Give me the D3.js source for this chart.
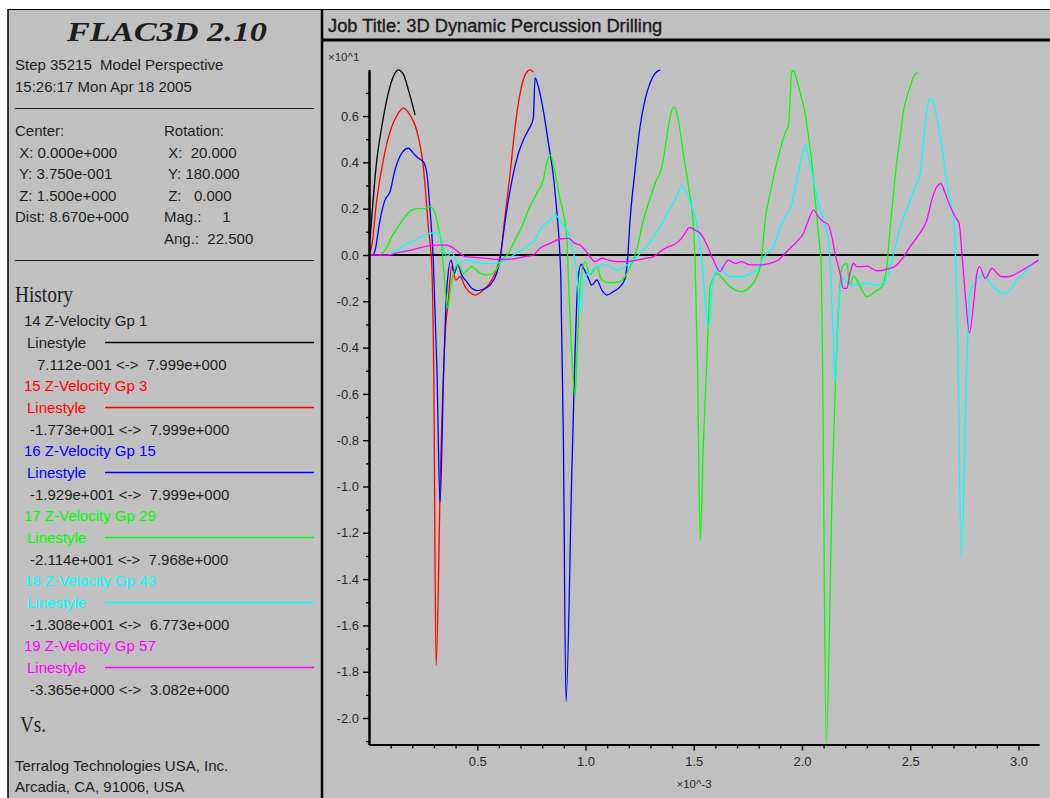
<!DOCTYPE html>
<html>
<head>
<meta charset="utf-8">
<title>3D Dynamic Percussion Drilling</title>
<script src="https://cdn.jsdelivr.net/npm/d3@7/dist/d3.min.js"></script>
<style>
  html, body { margin: 0; padding: 0; background: #fff; }
  svg { display: block; }
  text { white-space: pre; }
</style>
</head>
<body>
<svg id="chart" width="1050" height="798"></svg>
<script>
// ---- Z-velocity histories: time in x10^-3 s, velocity in model units ----
const gp1Time = [0.005, 0.036, 0.059, 0.082, 0.112, 0.135, 0.159, 0.182, 0.213];
const gp1Vel  = [0.7112, 4.10, 5.54, 6.70, 7.70, 7.999, 7.80, 7.13, 6.05];

const gp3Time = [0.000, 0.012, 0.036, 0.066, 0.105, 0.135, 0.159, 0.189, 0.220, 0.251,
                 0.274, 0.290, 0.299, 0.310, 0.331, 0.355, 0.364, 0.382, 0.401, 0.421,
                 0.444, 0.490, 0.528, 0.567, 0.598, 0.613, 0.628, 0.652, 0.675, 0.698,
                 0.721, 0.744, 0.759];
const gp3Vel  = [0, 0.36, 2.38, 4.10, 5.54, 6.12, 6.34, 6.05, 5.40, 3.80,
                 1.22, -0.50, -5.00, -17.73, -9.00, -3.00, -2.20, -0.50, -1.08, -0.94,
                 -1.37, -1.73, -1.51, -1.08, -0.36, 0.36, 1.65, 3.53, 5.54, 6.98,
                 7.78, 7.999, 7.90];

const gp15Time = [0.020, 0.028, 0.051, 0.074, 0.097, 0.120, 0.151, 0.182, 0.205, 0.228,
                  0.251, 0.267, 0.282, 0.297, 0.314, 0.328, 0.345, 0.359, 0.379, 0.394,
                  0.410, 0.428, 0.451, 0.475, 0.498, 0.528, 0.559, 0.590, 0.605, 0.621,
                  0.644, 0.667, 0.690, 0.713, 0.736, 0.759, 0.767, 0.782, 0.805, 0.829,
                  0.852, 0.867, 0.879, 0.886, 0.898, 0.910, 0.938, 0.966, 0.980, 0.993,
                  1.013, 1.029, 1.052, 1.075, 1.098, 1.129, 1.160, 1.183, 1.194, 1.206,
                  1.229, 1.252, 1.275, 1.298, 1.322, 1.345];
const gp15Vel  = [0, 0.20, 1.51, 2.38, 2.73, 3.67, 4.39, 4.61, 4.39, 4.18,
                  4.03, 3.53, 1.94, -0.20, -5.00, -10.70, -5.00, -1.50, -0.22, -0.79,
                  -0.43, -0.86, -1.15, -1.44, -1.54, -1.48, -1.30, -0.79, -0.22, 0.94,
                  2.38, 3.53, 4.39, 4.97, 5.40, 5.90, 7.65, 7.27, 6.26, 4.82,
                  3.38, 1.94, 0.50, -0.94, -8.00, -19.29, -9.00, -1.00, -0.40, -0.60,
                  -1.00, -1.30, -1.08, -1.51, -1.73, -1.58, -1.37, -1.01, -0.22, 1.51,
                  3.67, 5.54, 6.70, 7.42, 7.85, 7.999];

const gp29Time = [0.051, 0.074, 0.105, 0.135, 0.166, 0.197, 0.228, 0.259, 0.282, 0.305,
                  0.320, 0.336, 0.351, 0.364, 0.374, 0.390, 0.413, 0.436, 0.475, 0.513,
                  0.551, 0.582, 0.613, 0.644, 0.675, 0.706, 0.736, 0.775, 0.805, 0.821,
                  0.836, 0.860, 0.883, 0.898, 0.914, 0.921, 0.935, 0.952, 0.960, 0.975,
                  0.998, 1.021, 1.052, 1.075, 1.114, 1.160, 1.191, 1.214, 1.237, 1.260,
                  1.291, 1.322, 1.353, 1.376, 1.391, 1.409, 1.429, 1.452, 1.476, 1.499,
                  1.506, 1.518, 1.530, 1.545, 1.561, 1.576, 1.591, 1.607, 1.622, 1.668,
                  1.722, 1.761, 1.792, 1.807, 1.815, 1.830, 1.853, 1.876, 1.899, 1.922,
                  1.938, 1.945, 1.953, 1.961, 1.976, 2.000, 2.015, 2.030, 2.046, 2.061,
                  2.076, 2.089, 2.095, 2.112, 2.140, 2.171, 2.186, 2.207, 2.222, 2.238,
                  2.269, 2.300, 2.338, 2.369, 2.392, 2.408, 2.423, 2.439, 2.454, 2.470,
                  2.485, 2.500, 2.515, 2.534];
const gp29Vel  = [0, 0.20, 0.79, 1.22, 1.65, 1.94, 2.00, 2.00, 2.09, 1.80,
                  1.22, 0.36, -1.37, -2.30, -1.66, -0.79, -0.43, -0.79, -0.50, -0.79,
                  -0.86, -0.72, -0.22, 0.07, 0.65, 1.22, 1.94, 2.66, 3.24, 3.96,
                  4.32, 3.53, 2.38, 1.80, 0.65, -0.94, -4.00, -6.05, -4.50, -1.37,
                  -0.30, -0.86, -0.50, -1.08, -1.20, -1.15, -0.80, -0.36, 0.22, 1.22,
                  2.23, 3.10, 3.81, 5.11, 5.97, 6.40, 5.83, 4.39, 2.95, 1.22,
                  -0.20, -5.00, -12.31, -8.00, -4.50, -1.37, -1.00, -0.79, -0.90, -1.37,
                  -1.58, -1.37, -0.94, -0.50, 0, 1.51, 2.66, 3.67, 4.54, 5.26,
                  5.62, 6.70, 7.92, 7.968, 7.56, 6.70, 6.12, 5.11, 3.96, 2.38,
                  0.94, -0.50, -4.50, -21.14, -10.00, -2.00, -0.50, -0.36, -1.30, -0.90,
                  -1.37, -1.80, -1.58, -1.37, -0.50, 1.22, 2.66, 4.10, 5.11, 6.26,
                  6.84, 7.27, 7.70, 7.88];

const gp43Time = [0.089, 0.120, 0.166, 0.213, 0.259, 0.305, 0.328, 0.343, 0.359, 0.382,
                  0.413, 0.444, 0.490, 0.536, 0.582, 0.628, 0.667, 0.706, 0.736, 0.767,
                  0.790, 0.836, 0.860, 0.891, 0.921, 0.944, 0.960, 0.975, 0.990, 1.013,
                  1.052, 1.098, 1.145, 1.183, 1.221, 1.252, 1.283, 1.314, 1.345, 1.376,
                  1.406, 1.437, 1.445, 1.468, 1.491, 1.514, 1.530, 1.537, 1.553, 1.568,
                  1.584, 1.599, 1.622, 1.645, 1.676, 1.722, 1.761, 1.792, 1.815, 1.838,
                  1.868, 1.891, 1.922, 1.953, 1.976, 2.000, 2.015, 2.030, 2.053, 2.076,
                  2.099, 2.115, 2.130, 2.142, 2.153, 2.164, 2.176, 2.191, 2.222, 2.300,
                  2.338, 2.384, 2.408, 2.431, 2.454, 2.477, 2.500, 2.523, 2.546, 2.562,
                  2.577, 2.593, 2.608, 2.631, 2.655, 2.677, 2.700, 2.708, 2.720, 2.736,
                  2.762, 2.777, 2.793, 2.816, 2.839, 2.870, 2.901, 2.931, 2.962, 2.993,
                  3.024, 3.055, 3.093];
const gp43Vel  = [0, 0.14, 0.43, 0.65, 0.86, 0.96, 0.86, 0.36, -0.07, 0.10,
                  -0.36, -0.22, -0.29, -0.36, -0.36, -0.22, 0, 0.22, 0.43, 0.65,
                  1.08, 1.51, 1.73, 1.37, 0.94, 0.14, -0.79, -2.50, -1.00, -0.80,
                  -0.50, -0.43, -0.65, -0.50, -0.22, 0.07, 0.36, 0.79, 1.22, 1.80,
                  2.23, 2.88, 3.02, 2.66, 2.09, 1.37, 0.36, -0.20, -2.00, -3.10,
                  -1.50, -0.79, -0.50, -0.79, -0.94, -0.94, -0.79, -0.65, -0.22, 0.07,
                  0.36, 0.94, 1.65, 2.23, 3.24, 4.25, 4.75, 4.25, 3.24, 2.23,
                  1.51, 0.94, -0.22, -3.00, -5.50, -3.00, -1.50, -1.00, -1.30, -1.22,
                  -1.30, -1.15, -0.50, 0.36, 1.22, 1.80, 2.38, 2.95, 3.53, 4.97,
                  6.26, 6.773, 6.55, 5.54, 4.10, 2.66, 1.65, 0.50, -4.00, -13.08,
                  -4.50, -1.51, -1.30, -0.94, -0.86, -1.22, -1.51, -1.66, -1.51, -1.08,
                  -0.79, -0.50, -0.22];

const gp57Time = [0.005, 0.089, 0.135, 0.182, 0.228, 0.274, 0.320, 0.359, 0.390, 0.421,
                  0.444, 0.490, 0.536, 0.582, 0.628, 0.675, 0.721, 0.759, 0.790, 0.836,
                  0.883, 0.921, 0.952, 0.975, 0.998, 1.021, 1.044, 1.075, 1.106, 1.145,
                  1.191, 1.237, 1.283, 1.314, 1.345, 1.376, 1.406, 1.437, 1.460, 1.480,
                  1.506, 1.530, 1.561, 1.591, 1.622, 1.637, 1.660, 1.691, 1.722, 1.761,
                  1.807, 1.853, 1.891, 1.922, 1.953, 1.984, 2.007, 2.030, 2.053, 2.076,
                  2.099, 2.122, 2.138, 2.153, 2.176, 2.191, 2.207, 2.222, 2.238, 2.253,
                  2.276, 2.300, 2.346, 2.392, 2.439, 2.470, 2.500, 2.538, 2.577, 2.600,
                  2.623, 2.642, 2.662, 2.685, 2.708, 2.726, 2.739, 2.754, 2.774, 2.793,
                  2.808, 2.820, 2.847, 2.878, 2.901, 2.924, 2.954, 2.993, 3.031, 3.070,
                  3.093];
const gp57Vel  = [0, 0, 0.10, 0.19, 0.29, 0.39, 0.43, 0.43, 0.29, 0.07,
                  -0.07, -0.10, -0.14, -0.19, -0.19, -0.16, -0.07, 0, 0.29, 0.50,
                  0.69, 0.72, 0.50, 0.43, 0.22, -0.07, -0.29, -0.14, -0.22, -0.29,
                  -0.29, -0.22, -0.14, -0.07, 0.14, 0.33, 0.43, 0.65, 0.94, 1.19,
                  1.08, 0.94, 0.43, -0.22, -0.72, -0.50, -0.22, -0.36, -0.29, -0.43,
                  -0.43, -0.36, -0.22, 0.07, 0.36, 0.65, 0.94, 1.51, 1.94, 1.65,
                  1.44, 1.30, 0.79, 0.07, -0.79, -1.44, -1.44, -0.79, -0.36, -0.50,
                  -0.50, -0.48, -0.68, -0.62, -0.43, -0.07, 0.36, 0.86, 1.51, 2.38,
                  2.95, 3.082, 2.66, 2.09, 1.65, 1.37, 0.07, -1.66, -3.365, -2.09,
                  -0.79, -0.50, -1.01, -0.58, -0.79, -0.94, -0.94, -0.79, -0.58, -0.36,
                  -0.22];

const historyIds    = [14, 15, 16, 17, 18, 19];
const gridPoints    = [1, 3, 15, 29, 43, 57];
const historyColors = ["#000000", "#ff0000", "#0000ff", "#00ff00", "#00ffff", "#ff00ff"];
const historyTimes  = [gp1Time, gp3Time, gp15Time, gp29Time, gp43Time, gp57Time];
const historyVels   = [gp1Vel, gp3Vel, gp15Vel, gp29Vel, gp43Vel, gp57Vel];

// axis ticks (velocity axis shown in x10^1, time axis in x10^-3)
const yMajorTicks = [6, 4, 2, 0, -2, -4, -6, -8, -10, -12, -14, -16, -18, -20];
const yMinorTicks = [7, 5, 3, 1, -1, -3, -5, -7, -9, -11, -13, -15, -17, -19, -21];
const xMajorTicks = [0.5, 1.0, 1.5, 2.0, 2.5, 3.0];
const xMinorTicks = [0.1, 0.2, 0.3, 0.4, 0.6, 0.7, 0.8, 0.9, 1.1, 1.2, 1.3, 1.4,
                     1.6, 1.7, 1.8, 1.9, 2.1, 2.2, 2.3, 2.4, 2.6, 2.7, 2.8, 2.9];
const timeEnd = 3.095;

// header panel text
const headerLines = ["Step 35215  Model Perspective", "15:26:17 Mon Apr 18 2005"];
const centerLines = ["Center:", " X: 0.000e+000", " Y: 3.750e-001", " Z: 1.500e+000", "Dist: 8.670e+000"];
const rotationLines = ["Rotation:", " X:  20.000", " Y: 180.000", " Z:   0.000", "Mag.:     1", "Ang.:  22.500"];
const footerLines = ["Terralog Technologies USA, Inc.", "Arcadia, CA, 91006, USA"];

// ---------------------------------------------------------------
const W = 1050, H = 798;
const panelGray = "#c0c0c0";
const sans = "'Liberation Sans', Arial, sans-serif";
const serif = "'Liberation Serif', 'Times New Roman', serif";
const svg = d3.select("#chart");

// FLAC-style exponent formatting, e.g. 7.112e-001
function flacExp(v) {
  const parts = v.toExponential(3).split("e");
  const n = +parts[1];
  return parts[0] + "e" + (n < 0 ? "-" : "+") + String(Math.abs(n)).padStart(3, "0");
}

// ---- frame ----
svg.append("rect").attr("width", W).attr("height", H).attr("fill", "#fff");
svg.append("rect").attr("x", 8).attr("y", 9).attr("width", W - 8).attr("height", H - 9).attr("fill", panelGray);
const frame = svg.append("g").attr("stroke", "#000").attr("fill", "none");
frame.append("line").attr("x1", 8).attr("x2", W).attr("y1", 9.5).attr("y2", 9.5).attr("stroke-width", 1.2);
frame.append("line").attr("x1", 8).attr("x2", 8).attr("y1", 9).attr("y2", H).attr("stroke-width", 1.5);
frame.append("line").attr("x1", 322).attr("x2", 322).attr("y1", 9).attr("y2", H).attr("stroke-width", 2.5);
frame.append("line").attr("x1", 322).attr("x2", W).attr("y1", 40).attr("y2", 40).attr("stroke-width", 3);

// ---- left info panel ----
const left = svg.append("g").attr("font-family", sans).attr("font-size", 15).attr("fill", "#1e1e1e");

left.append("text").attr("x", 67).attr("y", 41)
  .attr("font-family", serif).attr("font-size", 28).attr("font-weight", "bold").attr("font-style", "italic")
  .attr("textLength", 200).attr("lengthAdjust", "spacingAndGlyphs")
  .text("FLAC3D 2.10");

left.selectAll("text.hdr").data(headerLines).join("text").attr("class", "hdr")
  .attr("x", 15).attr("y", (d, i) => 70 + i * 22).text(d => d);

left.append("line").attr("x1", 15).attr("x2", 314).attr("y1", 108.5).attr("y2", 108.5)
  .attr("stroke", "#222").attr("stroke-width", 1);

left.selectAll("text.ctr").data(centerLines).join("text").attr("class", "ctr")
  .attr("x", 15).attr("y", (d, i) => 136 + i * 21.5).text(d => d);
left.selectAll("text.rot").data(rotationLines).join("text").attr("class", "rot")
  .attr("x", 164).attr("y", (d, i) => 136 + i * 21.5).text(d => d);

left.append("line").attr("x1", 15).attr("x2", 314).attr("y1", 260.5).attr("y2", 260.5)
  .attr("stroke", "#222").attr("stroke-width", 1);

left.append("text").attr("x", 15).attr("y", 302)
  .attr("font-family", serif).attr("font-size", 24)
  .attr("textLength", 58).attr("lengthAdjust", "spacingAndGlyphs").text("History");

// legend entries: name, line style sample, value range computed from each series
const legendStep = 65;
historyIds.forEach((id, i) => {
  const top = 326 + i * legendStep;
  const col = historyColors[i];
  const vals = historyVels[i];
  const vmin = d3.min(vals), vmax = d3.max(vals);
  left.append("text").attr("x", 24).attr("y", top).attr("fill", i === 0 ? "#1e1e1e" : col)
    .text(id + " Z-Velocity Gp " + gridPoints[i]);
  left.append("text").attr("x", 27).attr("y", top + 21.5).attr("fill", i === 0 ? "#1e1e1e" : col)
    .text("Linestyle");
  left.append("line").attr("x1", 105).attr("x2", 314)
    .attr("y1", top + 16.5).attr("y2", top + 16.5)
    .attr("stroke", col).attr("stroke-width", 1.5);
  left.append("text").attr("x", vmin < 0 ? 30 : 37).attr("y", top + 43.5)
    .text(flacExp(vmin) + " <->  " + flacExp(vmax));
});

left.append("text").attr("x", 20).attr("y", 732)
  .attr("font-family", serif).attr("font-size", 24)
  .attr("textLength", 26).attr("lengthAdjust", "spacingAndGlyphs").text("Vs.");

left.selectAll("text.ftr").data(footerLines).join("text").attr("class", "ftr")
  .attr("x", 15).attr("y", (d, i) => 771 + i * 20.5).text(d => d);

// ---- job title ----
svg.append("text").attr("x", 328).attr("y", 31.5)
  .attr("font-family", sans).attr("font-size", 18.3).attr("fill", "#1a1a1a")
  .attr("stroke", "#1a1a1a").attr("stroke-width", 0.35)
  .text("Job Title: 3D Dynamic Percussion Drilling");

// ---- history plot ----
const allVel = historyVels.flat();
const x = d3.scaleLinear().domain([0, timeEnd]).range([369, 1039]);
const y = d3.scaleLinear().domain([d3.min(allVel), d3.max(allVel)]).range([744.4, 69.8]);

const plot = svg.append("g");

// zero reference line
plot.append("line")
  .attr("x1", x(0)).attr("x2", x(3.093)).attr("y1", y(0)).attr("y2", y(0))
  .attr("stroke", "#000").attr("stroke-width", 2.2);

const line = d3.line().x(d => x(d[0])).y(d => y(d[1])).curve(d3.curveMonotoneX);
historyTimes.forEach((ts, i) => {
  const pts = ts.map((t, k) => [t, historyVels[i][k]]);
  plot.append("path").datum(pts)
    .attr("d", line)
    .attr("fill", "none")
    .attr("stroke", historyColors[i])
    .attr("stroke-width", 1.3)
    .attr("stroke-linejoin", "round");
});

// axes
function styleAxis(g) {
  g.selectAll(".domain").attr("stroke", "#000").attr("stroke-width", 2);
  g.selectAll(".tick line").attr("stroke", "#000").attr("stroke-width", 1.4);
  g.selectAll(".tick text").attr("fill", "#2a2a2a").attr("font-family", sans).attr("font-size", 13);
}

const yAxisMinor = d3.axisLeft(y).tickValues(yMinorTicks).tickSize(3).tickSizeOuter(0).tickFormat("");
plot.append("g").attr("transform", `translate(${x(0)},0)`).call(yAxisMinor).call(styleAxis);
const yAxis = d3.axisLeft(y).tickValues(yMajorTicks).tickSize(6).tickSizeOuter(0).tickPadding(4)
  .tickFormat(d => (d / 10).toFixed(1));
plot.append("g").attr("transform", `translate(${x(0)},0)`).call(yAxis).call(styleAxis);

const xAxisMinor = d3.axisBottom(x).tickValues(xMinorTicks).tickSize(4).tickSizeOuter(0).tickFormat("");
plot.append("g").attr("transform", `translate(0,${y.range()[0]})`).call(xAxisMinor).call(styleAxis);
const xAxis = d3.axisBottom(x).tickValues(xMajorTicks).tickSize(6).tickSizeOuter(0).tickPadding(6)
  .tickFormat(d => d.toFixed(1));
plot.append("g").attr("transform", `translate(0,${y.range()[0]})`).call(xAxis).call(styleAxis);

// axis multipliers
svg.append("text").attr("x", 328).attr("y", 61)
  .attr("font-family", sans).attr("font-size", 11.5).attr("fill", "#2a2a2a").text("×10^1");
svg.append("text").attr("x", 694).attr("y", 788).attr("text-anchor", "middle")
  .attr("font-family", sans).attr("font-size", 11.5).attr("fill", "#2a2a2a").text("×10^-3");
</script>
</body>
</html>
